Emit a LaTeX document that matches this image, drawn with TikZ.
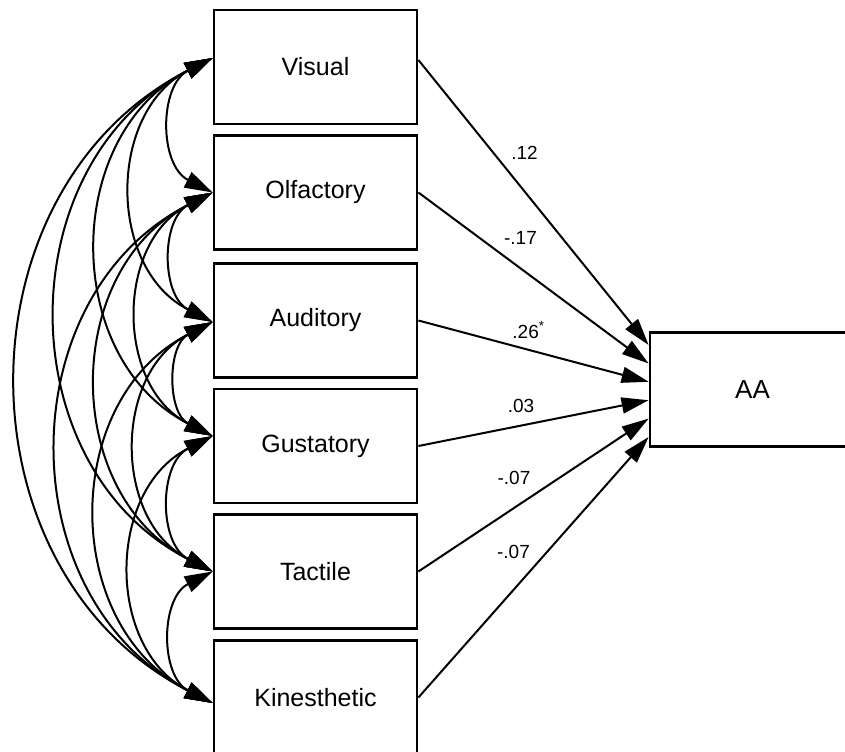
\documentclass[tikz,border=0pt]{standalone}
\usepackage{fontspec}
\setmainfont{Liberation Sans}
\usetikzlibrary{arrows.meta}
\tikzset{
  var/.style={draw, line width=1.4pt, fill=white, minimum width=101.5pt, minimum height=57pt, inner sep=0pt, font=\fontsize{12.5}{14}\selectfont},
  regarrow/.style={-{Triangle[length=13.5pt,width=8pt]}, line width=1pt},
  covarrow/.style={{Triangle[length=14pt,width=8.5pt]}-{Triangle[length=14pt,width=8.5pt]}, line width=1pt, bend right=63, looseness=1.15},
  coef/.style={font=\fontsize{9.5}{11}\selectfont, inner sep=0pt}
}
\begin{document}
\begin{tikzpicture}[x=0.5pt, y=0.5pt]
\useasboundingbox (0,0) rectangle (845,751);
\clip (0,0) rectangle (845,751);
\fill[white] (0,0) rectangle (845,751);
% variables
\node[var] (V) at (315.5,684) {Visual};
\node[var] (O) at (315.5,558.5) {Olfactory};
\node[var] (A) at (315.5,430.5) {Auditory};
\node[var] (G) at (315.5,305) {Gustatory};
\node[var] (T) at (315.5,179.5) {Tactile};
\node[var] (K) at (315.5,53.5) {Kinesthetic};
\node[var, minimum width=102.5pt, font=\fontsize{13}{15}\selectfont] (AA) at (752.5,361.5) {AA};
% endpoints of covariances on the left edges
\coordinate (vL) at ([yshift=4.5pt]V.west);
\coordinate (oL) at ([yshift=0pt]O.west);
\coordinate (aL) at ([yshift=-0.75pt]A.west);
\coordinate (gL) at ([yshift=5pt]G.west);
\coordinate (tL) at ([yshift=0pt]T.west);
\coordinate (kL) at ([yshift=-2.75pt]K.west);
% covariances
\draw[covarrow] (vL) to (oL);
\draw[covarrow] (vL) to (aL);
\draw[covarrow] (vL) to (gL);
\draw[covarrow] (vL) to (tL);
\draw[covarrow] (vL) to (kL);
\draw[covarrow] (oL) to (aL);
\draw[covarrow] (oL) to (gL);
\draw[covarrow] (oL) to (tL);
\draw[covarrow] (oL) to (kL);
\draw[covarrow] (aL) to (gL);
\draw[covarrow] (aL) to (tL);
\draw[covarrow] (aL) to (kL);
\draw[covarrow] (gL) to (tL);
\draw[covarrow] (gL) to (kL);
\draw[covarrow] (tL) to (kL);
% regressions
\draw[regarrow] ([yshift=3.5pt]V.east) -- ([yshift=22.25pt]AA.west);
\draw[regarrow] (O.east) -- ([yshift=13pt]AA.west);
\draw[regarrow] (A.east) -- ([yshift=3.85pt]AA.west);
\draw[regarrow] (G.east) -- ([yshift=-5.35pt]AA.west);
\draw[regarrow] (T.east) -- ([yshift=-14.55pt]AA.west);
\draw[regarrow] (K.east) -- ([yshift=-23.75pt]AA.west);
% coefficients
\node[coef] (c1) at (524.5,598) {.12};
\node[coef] (c2) at (520.5,513) {-.17};
\node[coef, anchor=west] (c3) at (512,421) {.26\textsuperscript{*}};
\node[coef] (c4) at (521,345) {.03};
\node[coef] (c5) at (514,273) {-.07};
\node[coef] (c6) at (513.5,199) {-.07};
\end{tikzpicture}
\end{document}
